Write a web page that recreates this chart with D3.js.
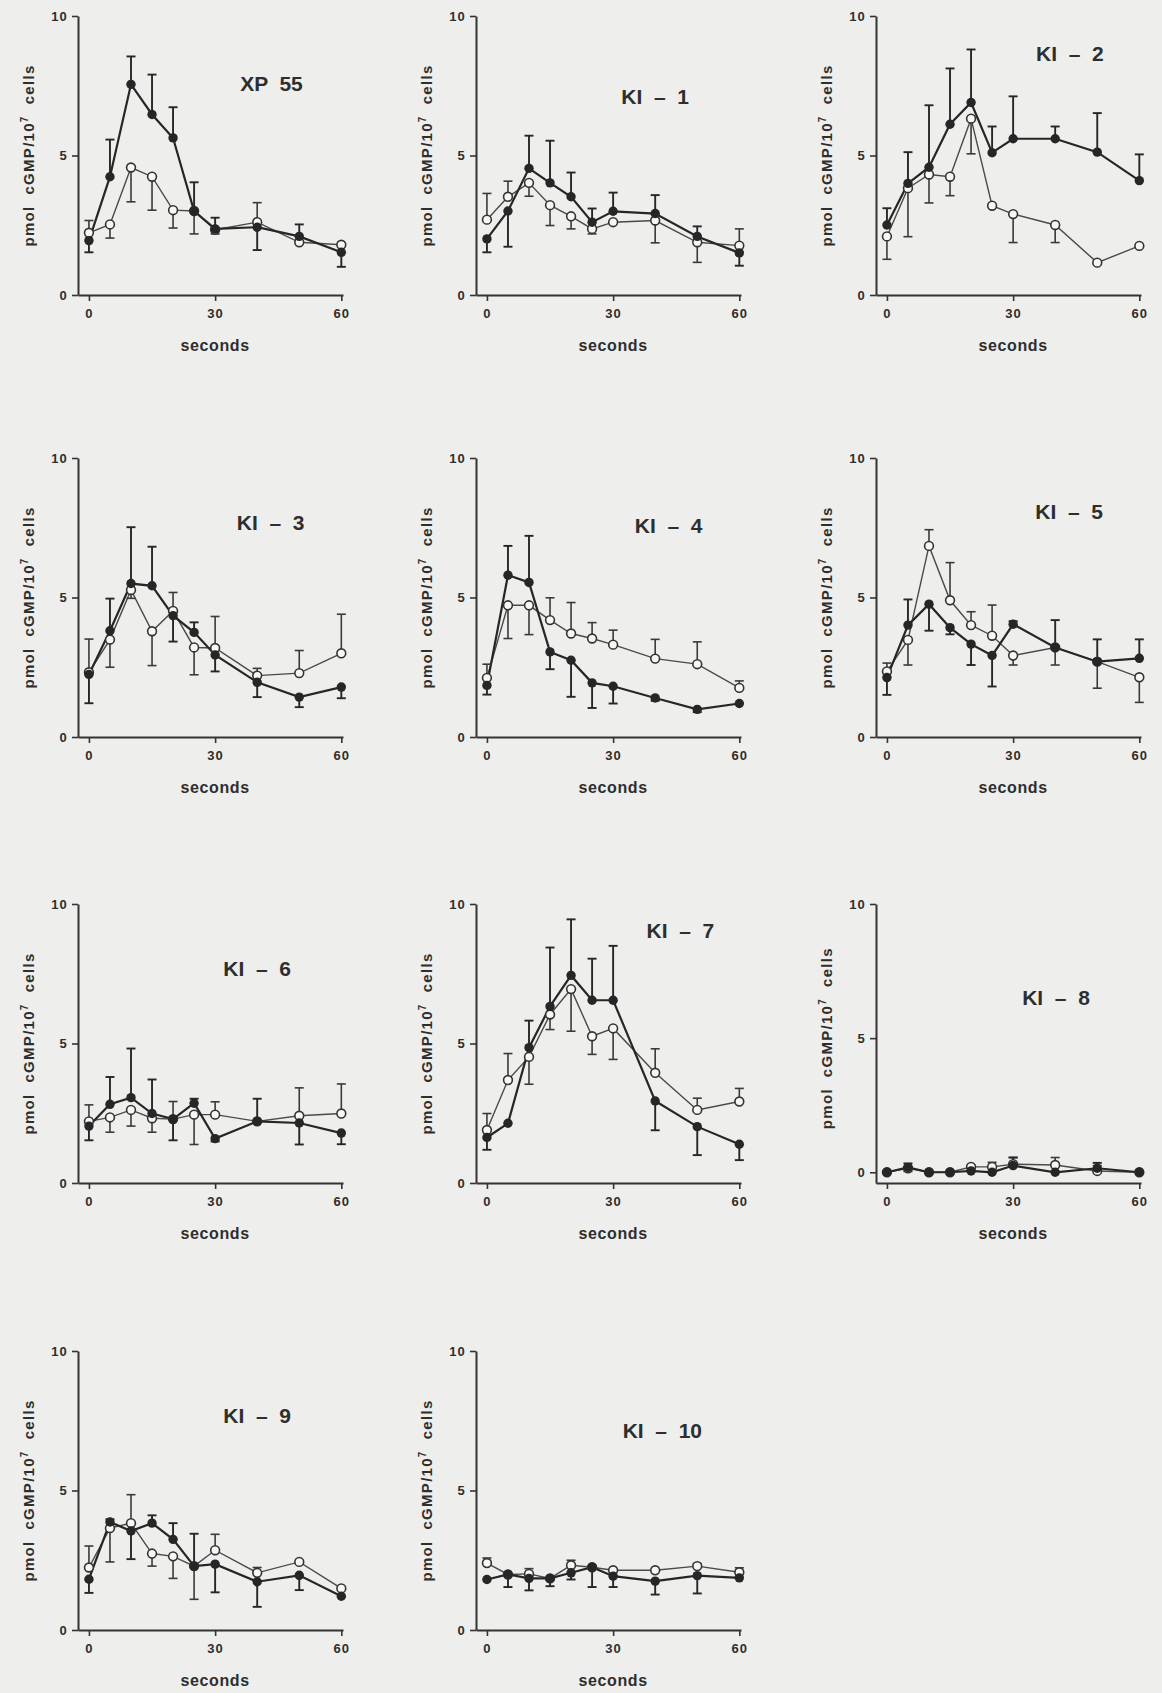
<!DOCTYPE html>
<html>
<head>
<meta charset="utf-8">
<script src="https://cdn.jsdelivr.net/npm/d3@7/dist/d3.min.js"></script>
<style>
  html, body { margin: 0; padding: 0; background: #eeeeec; }
  svg { display: block; }
  text { font-family: "Liberation Sans", Arial, sans-serif; font-weight: bold; fill: #2e2e2e; }
</style>
</head>
<body>
<svg id="chart" width="1162" height="1693"></svg>
<script>
// Sampling times (seconds) shared by every panel
const timePoints = [0, 5, 10, 15, 20, 25, 30, 40, 50, 60];

// Panel titles, in reading order (three per row)
const panelNames = ["XP  55", "KI  \u2013  1", "KI  \u2013  2", "KI  \u2013  3", "KI  \u2013  4",
  "KI  \u2013  5", "KI  \u2013  6", "KI  \u2013  7", "KI  \u2013  8", "KI  \u2013  9", "KI  \u2013  10"];

// Filled-circle series: mean cGMP (pmol / 10^7 cells)
const filledMeans = [
  [1.95, 4.24, 7.55, 6.47, 5.63, 3.01, 2.37, 2.43, 2.10, 1.53],
  [2.01, 3.01, 4.54, 4.02, 3.52, 2.61, 3.00, 2.92, 2.10, 1.51],
  [2.51, 4.00, 4.58, 6.12, 6.90, 5.10, 5.60, 5.60, 5.12, 4.10],
  [2.24, 3.81, 5.50, 5.42, 4.35, 3.75, 2.94, 1.96, 1.43, 1.79],
  [1.85, 5.80, 5.54, 3.05, 2.75, 1.94, 1.82, 1.40, 0.99, 1.20],
  [2.13, 4.01, 4.76, 3.92, 3.33, 2.92, 4.04, 3.21, 2.70, 2.82],
  [2.04, 2.82, 3.06, 2.49, 2.29, 2.86, 1.59, 2.21, 2.15, 1.79],
  [1.63, 2.14, 4.85, 6.33, 7.44, 6.55, 6.55, 2.94, 2.02, 1.39],
  [0.00, 0.18, 0.00, 0.00, 0.05, 0.00, 0.25, 0.00, 0.15, 0.00],
  [1.82, 3.87, 3.55, 3.83, 3.25, 2.29, 2.36, 1.73, 1.96, 1.21],
  [1.81, 1.99, 1.85, 1.85, 2.05, 2.25, 1.93, 1.75, 1.95, 1.87]
];
// One-sided error bars of the filled series (positive = drawn upward, negative = downward)
const filledErr = [
  [-0.42, 1.33, 1.00, 1.43, 1.10, 1.03, 0.40, -0.82, 0.43, -0.52],
  [-0.48, -1.28, 1.17, 1.51, 0.87, 0.49, 0.67, 0.66, 0.36, -0.46],
  [0.60, 1.12, 2.22, 2.00, 1.90, 0.94, 1.52, 0.44, 1.40, 0.94],
  [-1.03, 1.15, 2.02, 1.40, -0.93, 0.36, -0.59, -0.53, -0.36, -0.40],
  [-0.33, 1.05, 1.67, -0.62, -1.31, -0.90, -0.62, -0.10, -0.10, 0],
  [-0.62, 0.92, -0.95, -0.24, -0.75, -1.11, 0.11, 0.98, 0.80, 0.68],
  [-0.51, 0.98, 1.76, 1.22, -0.76, 0.16, -0.10, 0.81, -0.77, -0.40],
  [-0.44, 0, 0.97, 2.11, 2.01, 1.49, 1.95, -1.05, -1.02, -0.57],
  [0, 0.15, 0, 0, 0.20, 0, 0.30, 0, 0.20, 0],
  [-0.49, 0.10, -1.01, 0.28, 0.58, 1.16, -1.01, -0.90, -0.53, 0],
  [0, -0.45, -0.43, -0.28, -0.24, -0.71, -0.39, -0.48, -0.64, 0]
];

// Open-circle series: mean cGMP (pmol / 10^7 cells)
const openMeans = [
  [2.23, 2.53, 4.57, 4.24, 3.04, 3.01, 2.34, 2.61, 1.89, 1.80],
  [2.70, 3.52, 4.02, 3.22, 2.82, 2.37, 2.61, 2.67, 1.89, 1.77],
  [2.10, 3.83, 4.32, 4.24, 6.32, 3.20, 2.90, 2.51, 1.16, 1.76],
  [2.32, 3.49, 5.27, 3.79, 4.52, 3.21, 3.19, 2.20, 2.29, 3.00],
  [2.12, 4.72, 4.72, 4.19, 3.71, 3.53, 3.31, 2.81, 2.61, 1.76],
  [2.35, 3.48, 6.85, 4.90, 4.01, 3.63, 2.92, 3.21, 2.70, 2.14],
  [2.21, 2.35, 2.62, 2.32, 2.29, 2.45, 2.45, 2.21, 2.41, 2.49],
  [1.90, 3.69, 4.52, 6.04, 6.95, 5.26, 5.54, 3.95, 2.62, 2.92],
  [0.00, 0.15, 0.00, 0.00, 0.20, 0.20, 0.30, 0.27, 0.05, 0.00],
  [2.24, 3.65, 3.83, 2.74, 2.64, 2.29, 2.86, 2.05, 2.44, 1.49],
  [2.40, 1.99, 2.01, 1.85, 2.32, 2.25, 2.14, 2.14, 2.29, 2.07]
];
// One-sided error bars of the open series
const openErr = [
  [0.44, -0.49, -1.23, -1.20, -0.64, -0.82, -0.15, 0.70, 0, 0],
  [0.94, 0.56, -0.48, -0.73, -0.45, -0.18, 0, -0.80, -0.72, 0.60],
  [-0.82, -1.74, -1.02, -0.68, -1.26, 0, -1.02, -0.63, 0, 0],
  [1.19, -0.99, -0.30, -1.23, 0.66, -0.98, 1.13, 0.26, 0.81, 1.40],
  [0.49, -1.19, -1.05, 0.80, 1.11, 0.57, 0.52, 0.69, 0.80, 0.25],
  [0.30, -0.90, 0.58, 1.35, 0.48, 1.10, -0.34, -0.63, -0.95, -0.90],
  [0.59, -0.53, -0.58, -0.50, 0.63, -1.07, 0.46, 0, 1.00, 1.06],
  [0.59, 0.95, -0.98, -0.54, -1.51, -0.65, -1.11, 0.86, 0.42, 0.47],
  [0, -0.12, 0, 0, -0.15, 0.17, 0.25, 0.28, 0.20, 0],
  [0.77, -1.21, 1.02, -0.45, -0.79, -1.19, 0.57, 0.19, 0, 0],
  [0.18, 0, 0.19, 0, 0.18, 0, 0, 0, 0.09, 0.16]
];

// Lower end of each panel's value axis
const yFloor = [0, 0, 0, 0, 0, 0, 0, 0, -0.4, 0, 0];

// Where each title sits, in the panel's own (seconds, value) units
const titleAtSeconds = [43.4, 40, 43.5, 43.2, 43.2, 43.3, 40, 46, 40.2, 40, 41.7];
const titleAtValue = [7.6, 7.1, 8.65, 7.7, 7.6, 8.07, 7.7, 9.04, 6.5, 7.7, 7.16];

// Axis ticks
const xTicks = [0, 30, 60];
const yTicks = [0, 5, 10];

// ---- layout ----
const colLeft = [78, 476, 876];
const rowTop = [16, 458, 904, 1351];
const plotW = 265, plotH = 279;
const bg = "#eeeeec";
const ink = "#262626";

const svg = d3.select("#chart");
svg.append("rect").attr("width", 1162).attr("height", 1693).attr("fill", bg);

panelNames.forEach((name, i) => {
  const col = i % 3, row = Math.floor(i / 3);
  const g = svg.append("g").attr("transform", `translate(${colLeft[col]},${rowTop[row]})`);

  const x = d3.scaleLinear().domain([-2.6, 60.4]).range([0, plotW]);
  const y = d3.scaleLinear().domain([yFloor[i], 10]).range([plotH, 0]);

  // axes
  const yAxis = g.append("g").call(
    d3.axisLeft(y).tickValues(yTicks).tickFormat(d3.format("d"))
      .tickSize(6).tickSizeOuter(0).tickPadding(4));
  const xAxis = g.append("g").attr("transform", `translate(0,${plotH})`).call(
    d3.axisBottom(x).tickValues(xTicks).tickFormat(d3.format("d"))
      .tickSize(6).tickSizeOuter(0).tickPadding(8));
  [yAxis, xAxis].forEach(a => {
    a.select(".domain").attr("stroke", "#333").attr("stroke-width", 2);
    a.selectAll(".tick line").attr("stroke", "#333").attr("stroke-width", 1.6);
    a.selectAll(".tick text")
      .style("font-family", '"Liberation Sans", Arial, sans-serif')
      .style("font-weight", "bold").style("font-size", "13px")
      .style("letter-spacing", "1.2px").attr("fill", "#333");
  });

  // axis titles
  g.append("text")
    .attr("x", (x(0) + x(60)) / 2).attr("y", plotH + 56)
    .attr("text-anchor", "middle")
    .style("font-size", "16px").style("letter-spacing", "0.6px")
    .text("seconds");

  const yl = g.append("text")
    .attr("transform", `translate(${-44},${(y(0) + y(10)) / 2}) rotate(-90)`)
    .attr("text-anchor", "middle")
    .style("font-size", "15px").style("letter-spacing", "1.3px")
    .style("white-space", "pre");
  yl.append("tspan").text("pmol  cGMP/10");
  yl.append("tspan").attr("dy", -6).style("font-size", "10px").text("7");
  yl.append("tspan").attr("dy", 6).text("  cells");

  // panel title
  g.append("text")
    .attr("x", x(titleAtSeconds[i])).attr("y", y(titleAtValue[i]))
    .attr("dy", "0.36em").attr("text-anchor", "middle")
    .style("font-size", "21px").style("white-space", "pre")
    .text(name);

  const openPts = timePoints.map((t, k) => ({ t, v: openMeans[i][k], e: openErr[i][k] }));
  const filledPts = timePoints.map((t, k) => ({ t, v: filledMeans[i][k], e: filledErr[i][k] }));
  const line = d3.line().x(d => x(d.t)).y(d => y(d.v));

  // connecting lines
  g.append("path").datum(openPts).attr("d", line)
    .attr("fill", "none").attr("stroke", "#4a4a4a").attr("stroke-width", 1.4);
  g.append("path").datum(filledPts).attr("d", line)
    .attr("fill", "none").attr("stroke", ink).attr("stroke-width", 2.2);

  // error bars (stem + cap)
  function errorBars(pts, color, width) {
    const eb = g.append("g").selectAll("g").data(pts.filter(d => d.e !== 0)).join("g");
    eb.append("line")
      .attr("x1", d => x(d.t)).attr("x2", d => x(d.t))
      .attr("y1", d => y(d.v)).attr("y2", d => y(d.v + d.e))
      .attr("stroke", color).attr("stroke-width", width);
    eb.append("line")
      .attr("x1", d => x(d.t) - 4.5).attr("x2", d => x(d.t) + 4.5)
      .attr("y1", d => y(d.v + d.e)).attr("y2", d => y(d.v + d.e))
      .attr("stroke", color).attr("stroke-width", width);
  }
  errorBars(openPts, "#3a3a3a", 1.6);
  errorBars(filledPts, ink, 1.9);

  // markers
  g.append("g").selectAll("circle").data(openPts).join("circle")
    .attr("cx", d => x(d.t)).attr("cy", d => y(d.v)).attr("r", 4.4)
    .attr("fill", "#f7f7f5").attr("stroke", "#333").attr("stroke-width", 1.6);
  g.append("g").selectAll("circle").data(filledPts).join("circle")
    .attr("cx", d => x(d.t)).attr("cy", d => y(d.v)).attr("r", 4.7)
    .attr("fill", ink);
});
</script>
</body>
</html>
